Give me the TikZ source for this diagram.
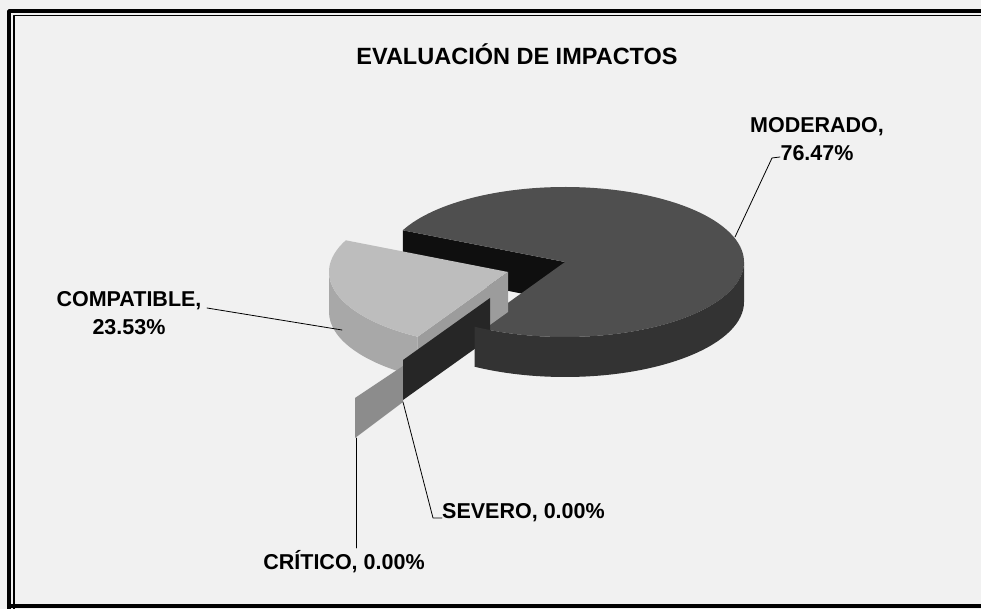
\documentclass[tikz,border=0pt]{standalone}
\usepackage{fontspec}
\setmainfont{Liberation Sans}
\usetikzlibrary{calc}
\definecolor{efefef}{rgb}{0.945,0.945,0.945}
\definecolor{qqqqqq}{rgb}{0.06,0.06,0.06}
\definecolor{sqsqsq}{rgb}{0.31,0.31,0.31}
\definecolor{dqdqdq}{rgb}{0.2,0.2,0.2}
\definecolor{bdbdbd}{rgb}{0.74,0.74,0.74}
\definecolor{aqaqaq}{rgb}{0.66,0.66,0.66}
\definecolor{fqfqfq}{rgb}{0.61,0.61,0.61}
\definecolor{cqcqcq}{rgb}{0.15,0.15,0.15}
\definecolor{oqoqoq}{rgb}{0.55,0.55,0.55}
\begin{document}
\begin{tikzpicture}[line cap=round,line join=round,x=1pt,y=1pt,
  lbl/.style={font=\fontsize{21.5}{28}\selectfont\bfseries,inner sep=0pt,align=center},
  guia/.style={line width=0.8pt,color=black}]
\useasboundingbox (0,0) rectangle (981,609);
\fill[color=efefef] (0,0) rectangle (981,609);
% marco doble
\draw[line width=3.5pt] (9,-5) -- (9,598) -- (990,598);
\draw[line width=3.5pt] (9,3) -- (990,3);
\draw[line width=1.2pt] (14,-5) -- (14,593.5) -- (990,593.5);
% centros de las porciones
\coordinate (M) at (565,347);
\coordinate (Mb) at (565,307);
\coordinate (K) at (508,337);
\coordinate (Kb) at (508,297);
% MODERADO: pared interior y cara superior
\fill[color=qqqqqq] (M) -- ($(M)+(155:179 and 75)$) -- ($(Mb)+(155:179 and 75)$) -- (Mb) -- cycle;
\fill[color=sqsqsq] (M) -- ($(M)+(239.7:179 and 75)$) arc[start angle=239.7,end angle=515,x radius=179,y radius=75] -- cycle;
% COMPATIBLE
\fill[color=aqaqaq] ($(K)+(180:179 and 75)$) arc[start angle=180,end angle=239.7,x radius=179,y radius=75] -- ($(Kb)+(239.7:179 and 75)$) arc[start angle=239.7,end angle=180,x radius=179,y radius=75] -- cycle;
\fill[color=fqfqfq] (K) -- ($(K)+(239.7:179 and 75)$) -- ($(Kb)+(239.7:179 and 75)$) -- (Kb) -- cycle;
\fill[color=bdbdbd] (K) -- ($(K)+(155:179 and 75)$) arc[start angle=155,end angle=239.7,x radius=179,y radius=75] -- cycle;
% CRITICO y SEVERO (0 %)
\fill[color=oqoqoq] (355,211) -- (403,243) -- (403,207) -- (355,171) -- cycle;
\fill[color=cqcqcq] (490,311) -- (403,249) -- (403,209) -- (490,271) -- cycle;
% MODERADO: lado exterior
\fill[color=dqdqdq] ($(M)+(239.7:179 and 75)$) arc[start angle=239.7,end angle=360,x radius=179,y radius=75] -- ($(Mb)+(0:179 and 75)$) arc[start angle=360,end angle=239.7,x radius=179,y radius=75] -- cycle;
% textos
\node[lbl,font=\fontsize{23.5}{26}\selectfont\bfseries] (tit) at (517,555) {EVALUACIÓN DE IMPACTOS};
\node[lbl] (mod) at (817,470) {MODERADO,\\76.47\%};
\node[lbl] (com) at (129,296) {COMPATIBLE,\\23.53\%};
\node[lbl,anchor=west] (sev) at (442,96) {SEVERO, 0.00\%};
\node[lbl] (cri) at (344,47) {CRÍTICO, 0.00\%};
% lineas guia
\coordinate (pm) at (735,372);
\coordinate (qm) at (772,451);
\coordinate (rm) at (780,452);
\draw[guia] (pm) -- (qm) -- (rm);
\coordinate (pc) at (342,279);
\coordinate (qc) at (207,301);
\draw[guia] (pc) -- (qc);
\coordinate (ps) at (403,207);
\coordinate (qs) at (433,91);
\draw[guia] (ps) -- (qs) -- (sev.west |- qs);
\coordinate (pk) at (356,171);
\coordinate (qk) at (356,61);
\draw[guia] (pk) -- (qk);
\end{tikzpicture}
\end{document}
